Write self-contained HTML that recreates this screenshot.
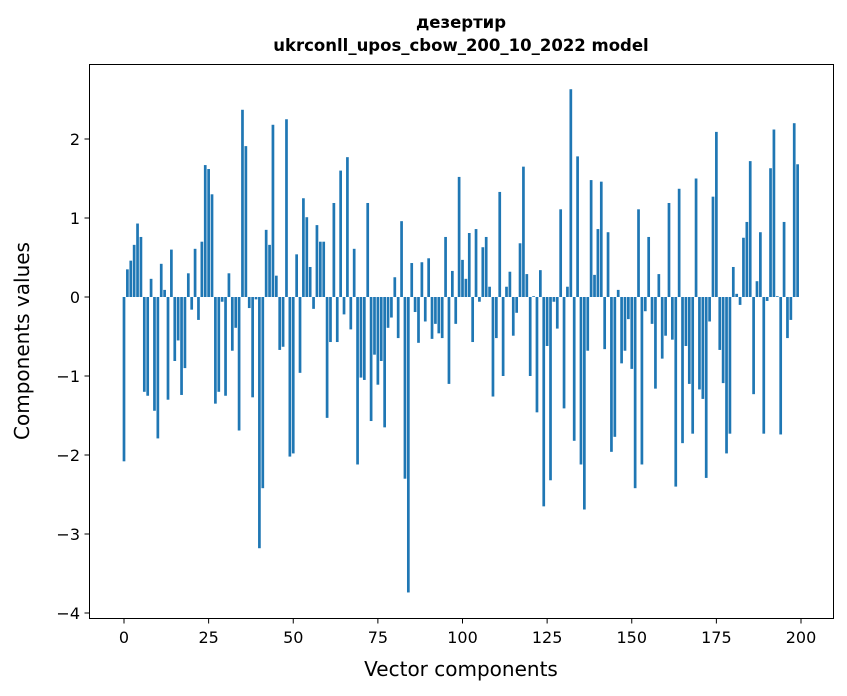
<!DOCTYPE html>
<html><head><meta charset="utf-8"><style>
body{margin:0;background:#fff;}
svg{display:block;font-family:"DejaVu Sans","Liberation Sans",sans-serif;}
</style></head><body>
<svg id="chart" width="847" height="696" viewBox="0 0 847 696" xmlns="http://www.w3.org/2000/svg">
<rect x="0" y="0" width="847" height="696" fill="#fff"/>
<text x="461" y="28" text-anchor="middle" font-size="16.5" font-weight="bold">дезертир</text>
<text x="461" y="51" text-anchor="middle" font-size="16.5" font-weight="bold">ukrconll_upos_cbow_200_10_2022 model</text>
<g id="bars"></g>
<rect x="89.5" y="64.5" width="744" height="554" fill="none" stroke="#000" stroke-width="1"/>
<g id="xticks"></g>
<g id="yticks"></g>
<text x="461" y="676" text-anchor="middle" font-size="20">Vector components</text>
<text x="0" y="0" transform="translate(29,341) rotate(-90)" text-anchor="middle" font-size="20">Components values</text>
</svg>
<script>
const values = [-2.08,0.35,0.46,0.66,0.93,0.76,-1.2,-1.25,0.23,-1.44,-1.79,0.42,0.09,-1.3,0.6,-0.81,-0.55,-1.24,-0.9,0.3,
-0.16,0.61,-0.29,0.7,1.67,1.62,1.3,-1.35,-1.2,-0.06,-1.25,0.3,-0.68,-0.39,-1.69,2.37,1.91,-0.14,-1.27,-0.03,
-3.18,-2.42,0.85,0.66,2.18,0.27,-0.67,-0.63,2.25,-2.02,-1.98,0.54,-0.96,1.25,1.01,0.38,-0.15,0.91,0.7,0.7,
-1.53,-0.57,1.19,-0.57,1.6,-0.22,1.77,-0.41,0.61,-2.12,-1.02,-1.05,1.19,-1.57,-0.73,-1.11,-0.81,-1.65,-0.39,-0.26,
0.25,-0.52,0.96,-2.3,-3.74,0.43,-0.19,-0.58,0.44,-0.31,0.49,-0.53,-0.34,-0.46,-0.52,0.76,-1.1,0.33,-0.34,1.52,
0.47,0.23,0.81,-0.57,0.86,-0.06,0.63,0.76,0.13,-1.26,-0.52,1.33,-1.0,0.13,0.32,-0.49,-0.2,0.68,1.65,0.29,
-1.0,0.01,-1.46,0.34,-2.65,-0.62,-2.32,-0.06,-0.4,1.11,-1.41,0.13,2.63,-1.82,1.78,-2.12,-2.69,-0.68,1.48,0.28,
0.86,1.46,-0.66,0.82,-1.96,-1.77,0.09,-0.84,-0.68,-0.28,-0.91,-2.42,1.11,-2.12,-0.18,0.76,-0.34,-1.16,0.29,-0.78,
-0.49,1.19,-0.54,-2.4,1.37,-1.85,-0.62,-1.1,-1.73,1.5,-1.17,-1.29,-2.29,-0.31,1.27,2.09,-0.67,-1.09,-1.98,-1.73,
0.38,0.04,-0.1,0.75,0.95,1.72,-1.23,0.2,0.82,-1.73,-0.05,1.63,2.12,0.01,-1.74,0.95,-0.52,-0.29,2.2,1.68];
const xTicks = [0,25,50,75,100,125,150,175,200];
const yTicks = [-4,-3,-2,-1,0,1,2];
const NS="http://www.w3.org/2000/svg";
function xs(v){return 124+v*3.385;}
function ys(v){return 297-v*79;}
const bars=document.getElementById('bars');
values.forEach((v,i)=>{
  const r=document.createElementNS(NS,'rect');
  
  
  const w=3.385*0.8;
  r.setAttribute('x',xs(i)-w/2);
  r.setAttribute('width',w);
  r.setAttribute('y',Math.min(ys(v),ys(0)));
  r.setAttribute('height',Math.abs(ys(v)-ys(0)));
  r.setAttribute('fill','#1f77b4');
  bars.appendChild(r);
});
const xg=document.getElementById('xticks');
xTicks.forEach(t=>{
  const l=document.createElementNS(NS,'line');
  
  
  l.setAttribute('x1',xs(t));l.setAttribute('x2',xs(t));
  l.setAttribute('y1',618.5);l.setAttribute('y2',623.5);
  l.setAttribute('stroke','#000');
  xg.appendChild(l);
  const tx=document.createElementNS(NS,'text');
  
  
  tx.setAttribute('x',xs(t));tx.setAttribute('y',643);
  tx.setAttribute('text-anchor','middle');tx.setAttribute('font-size','16');
  tx.textContent=String(t);
  xg.appendChild(tx);
});
const yg=document.getElementById('yticks');
yTicks.forEach(t=>{
  const l=document.createElementNS(NS,'line');
  
  
  l.setAttribute('x1',84.5);l.setAttribute('x2',89.5);
  l.setAttribute('y1',ys(t));l.setAttribute('y2',ys(t));
  l.setAttribute('stroke','#000');
  yg.appendChild(l);
  const tx=document.createElementNS(NS,'text');
  
  
  tx.setAttribute('x',80);tx.setAttribute('y',ys(t)+6);
  tx.setAttribute('text-anchor','end');tx.setAttribute('font-size','16');
  tx.textContent=(t<0?'\u2212'+Math.abs(t):String(t));
  yg.appendChild(tx);
});
</script>
</body></html>
